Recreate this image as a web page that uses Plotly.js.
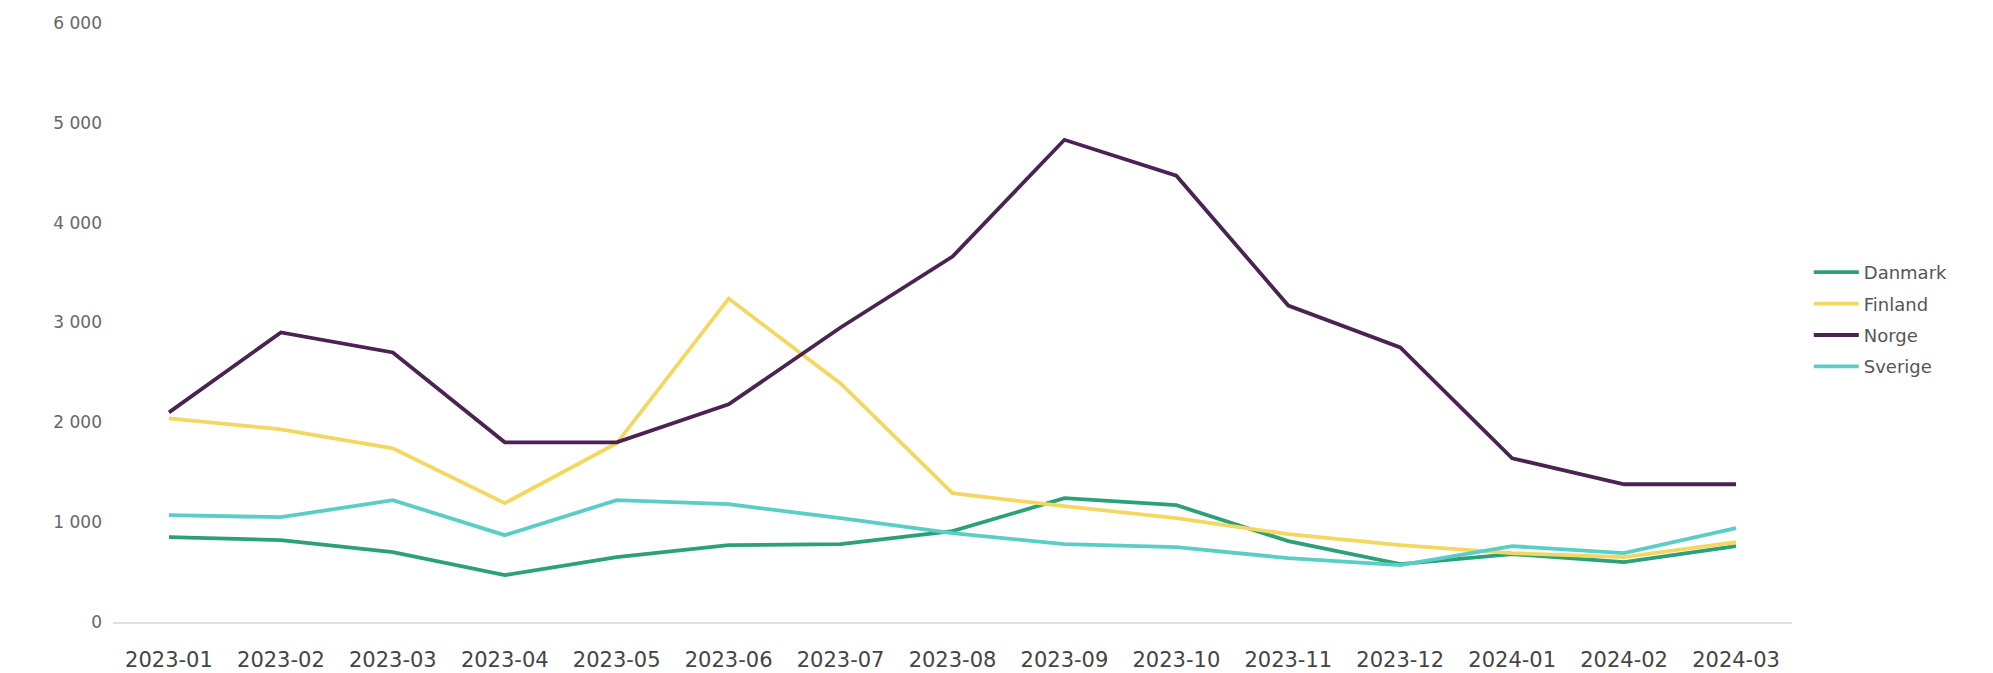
<!DOCTYPE html>
<html>
<head>
<meta charset="utf-8">
<script src="https://cdn.plot.ly/plotly-3.0.1.min.js"></script>
<style>html,body{margin:0;padding:0;background:#fff;}#chart{width:1993px;height:673px;}</style>
</head>
<body>
<div id="chart"></div>
<script>
const months = ["2023-01","2023-02","2023-03","2023-04","2023-05","2023-06","2023-07","2023-08","2023-09","2023-10","2023-11","2023-12","2024-01","2024-02","2024-03"];
const danmark = [850, 820, 700, 470, 650, 770, 780, 910, 1240, 1170, 810, 580, 680, 600, 760];
const finland = [2040, 1930, 1740, 1190, 1790, 3240, 2390, 1290, 1160, 1040, 880, 770, 690, 650, 800];
const norge   = [2100, 2900, 2700, 1800, 1800, 2180, 2950, 3660, 4830, 4470, 3170, 2750, 1640, 1380, 1380];
const sverige = [1070, 1050, 1220, 870, 1220, 1180, 1040, 890, 780, 750, 640, 570, 760, 690, 940];
const yTicks = [0, 1000, 2000, 3000, 4000, 5000, 6000];

const seriesNames = ["Danmark", "Finland", "Norge", "Sverige"];
const seriesData = [danmark, finland, norge, sverige];
const seriesColors = ["#2ba079", "#f3d760", "#4b2352", "#5acdc6"];

const traces = seriesNames.map((n, i) => ({
  type: "scatter", mode: "lines", name: n, x: months, y: seriesData[i],
  legendgroup: n,
  line: {color: seriesColors[i], width: 3.8}
}));

const fam = "DejaVu Sans, Arial, sans-serif";

const layout = {
  width: 1993, height: 673,
  margin: {l: 113, r: 201, t: 23, b: 51},
  paper_bgcolor: "#ffffff", plot_bgcolor: "#ffffff",
  separators: ", ",
  font: {family: fam, size: 16, color: "#555555"},
  showlegend: true,
  legend: {x: 1.01, xanchor: "left", y: 0.505, yanchor: "middle",
           font: {family: fam, size: 18, color: "#555555"},
           tracegroupgap: 5, itemwidth: 45},
  xaxis: {type: "category", range: [-0.5, 14.5], showgrid: false, showline: true,
          linecolor: "#e0e0e0", linewidth: 1.5,
          ticks: "", ticklabelstandoff: 18, zeroline: false,
          tickfont: {family: fam, size: 21, color: "#444444"}},
  yaxis: {range: [0, 6000], tickvals: yTicks, tickformat: ",d", showgrid: false, zeroline: false,
          showline: false, ticks: "", ticklabelstandoff: 10,
          tickfont: {family: fam, size: 17, color: "#666666"}}
};

Plotly.newPlot("chart", traces, layout, {displayModeBar: false, responsive: false});
</script>
</body>
</html>
